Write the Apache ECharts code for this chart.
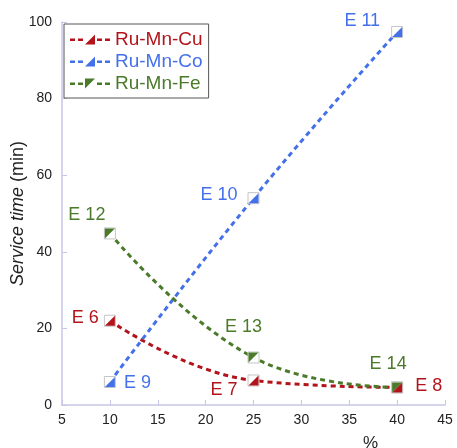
<!DOCTYPE html>
<html><head><meta charset="utf-8">
<script src="https://cdn.jsdelivr.net/npm/echarts@6/dist/echarts.min.js"></script>
<style>html,body{margin:0;padding:0;background:#fff}#c{width:457px;height:448px}</style>
</head><body><div id="c"></div>
<script>
const xValues = [10, 25, 40];
const cuValues = [22, 6.4, 4.6];
const coValues = [6, 54, 97.4];
const feValues = [44.8, 12.4, 4.6];
const cuLabels = ['E 6', 'E 7', 'E 8'];
const coLabels = ['E 9', 'E 10', 'E 11'];
const feLabels = ['E 12', 'E 13', 'E 14'];
const xTicks = [5, 10, 15, 20, 25, 30, 35, 40, 45];
const yTicks = [0, 20, 40, 60, 80, 100];

const RED = '#b3141c', BLUE = '#4470ea', GREEN = '#4b7a2b';
const TRI_BR = 'path://M10,0 L10,10 L0,10 Z';
const TRI_TL = 'path://M0,0 L10,0 L0,10 Z';
const DASH_L = 'M0,5h5v2.5h-5z M8,5h5v2.5h-5z ';
const DASH_R = ' M27,5h5v2.5h-5z M35,5h5v2.5h-5z';
const LEG_BR = 'path://' + DASH_L + 'M25,1 L25,11 L15,11 Z' + DASH_R;
const LEG_TL = 'path://' + DASH_L + 'M15,1 L25,1 L15,11 Z' + DASH_R;
const font = 'Liberation Sans, Arial, Helvetica, sans-serif';

function pairs(ys) { return xValues.map((x, i) => [x, ys[i]]); }

function lineSeries(name, ys, color) {
  return {
    name, type: 'line', data: pairs(ys), smooth: 0.45,
    symbol: 'rect', symbolSize: 11,
    itemStyle: { color: '#fff', borderColor: '#c4c4c4', borderWidth: 1 },
    lineStyle: { color, width: 3, type: [5, 4] },
    z: 2
  };
}
function markSeries(name, ys, color, sym, labels, pos) {
  return {
    name, type: 'scatter', data: pairs(ys).map((p, i) => ({
      value: p,
      label: { show: true, formatter: labels[i], position: pos[i].p, offset: pos[i].o || [0, 0] }
    })),
    symbol: sym, symbolSize: 10,
    itemStyle: { color, opacity: 1 },
    label: { color, fontSize: 18, fontFamily: font },
    z: 5
  };
}

const chart = echarts.init(document.getElementById('c'), null, { renderer: 'canvas' });
chart.setOption({
  backgroundColor: '#fff',
  animation: false,
  grid: { left: 62, right: 12, top: 22, bottom: 43, containLabel: false, outerBoundsMode: 'none' },
  legend: {
    left: 64, top: 24, orient: 'vertical',
    backgroundColor: '#fff', borderColor: '#555', borderWidth: 1,
    padding: [6, 6, 5, 6], itemGap: 3, itemWidth: 40, itemHeight: 14,
    textStyle: { fontSize: 19, fontFamily: font },
    data: [
      { name: 'Ru-Mn-Cu', icon: LEG_BR, itemStyle: { color: RED, borderWidth: 0 }, textStyle: { color: RED } },
      { name: 'Ru-Mn-Co', icon: LEG_BR, itemStyle: { color: BLUE, borderWidth: 0 }, textStyle: { color: BLUE } },
      { name: 'Ru-Mn-Fe', icon: LEG_TL, itemStyle: { color: GREEN, borderWidth: 0 }, textStyle: { color: GREEN } }
    ]
  },
  xAxis: {
    type: 'value', min: xTicks[0], max: xTicks[xTicks.length - 1], interval: 5,
    name: '%', nameLocation: 'middle', nameGap: 30, nameMoveOverlap: false,
    nameTextStyle: { fontSize: 17, color: '#222', fontFamily: font, padding: [0, 0, 0, 234] },
    axisLine: { lineStyle: { color: '#c6c6e6', width: 1.5 } },
    axisTick: { inside: true, length: 5, lineStyle: { color: '#c6c6e6' } },
    axisLabel: { fontSize: 14, color: '#222', fontFamily: font, margin: 8 },
    splitLine: { show: false }
  },
  yAxis: {
    type: 'value', min: yTicks[0], max: yTicks[yTicks.length - 1], interval: 20,
    name: '{i|Service time} (min)', nameLocation: 'middle', nameGap: 35, nameRotate: 90,
    nameMoveOverlap: false,
    nameTextStyle: { fontSize: 18, color: '#222', fontFamily: font,
      rich: { i: { fontStyle: 'italic', fontSize: 18, color: '#222', fontFamily: font } } },
    axisLine: { show: true, lineStyle: { color: '#c6c6e6', width: 1.5 } },
    axisTick: { show: true, inside: true, length: 5, lineStyle: { color: '#c6c6e6' } },
    axisLabel: { fontSize: 14, color: '#222', fontFamily: font, margin: 10 },
    splitLine: { show: false }
  },
  series: [
    lineSeries('Ru-Mn-Cu', cuValues, RED),
    lineSeries('Ru-Mn-Co', coValues, BLUE),
    lineSeries('Ru-Mn-Fe', feValues, GREEN),
    markSeries('Ru-Mn-Cu', cuValues, RED, TRI_BR, cuLabels,
      [{ p: 'left', o: [-1, -3] }, { p: 'left', o: [-6, 10] }, { p: 'right', o: [8, -1] }]),
    markSeries('Ru-Mn-Co', coValues, BLUE, TRI_BR, coLabels,
      [{ p: 'right', o: [4, 1] }, { p: 'left', o: [-6, -3] }, { p: 'left', o: [-7, -11] }]),
    markSeries('Ru-Mn-Fe', feValues, GREEN, TRI_TL, feLabels,
      [{ p: 'top', o: [-23, 1] }, { p: 'top', o: [-10, -11] }, { p: 'top', o: [-9, -4] }])
  ]
});
</script></body></html>
